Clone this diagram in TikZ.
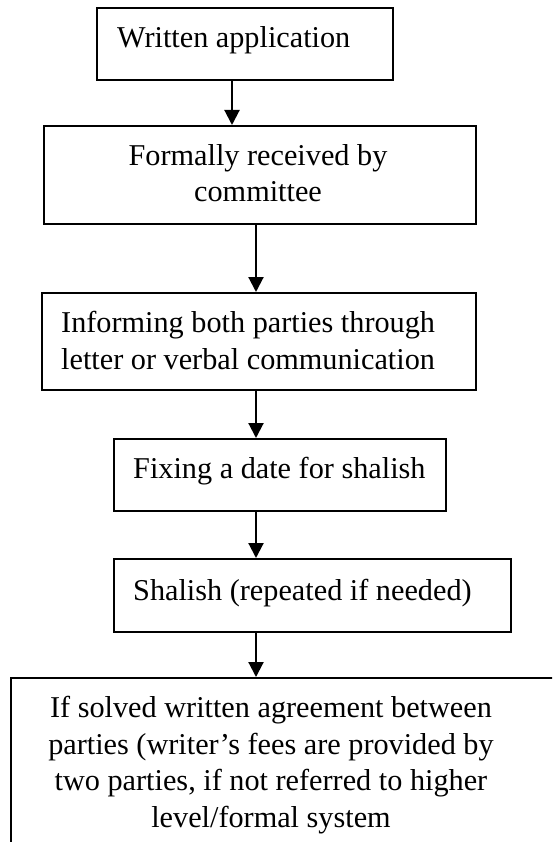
\documentclass[tikz,border=0pt]{standalone}
\usepackage{fontspec}
\setmainfont{Liberation Serif}
\usetikzlibrary{arrows.meta}

\begin{document}
\begin{tikzpicture}[x=1pt,y=1pt,
    stepbox/.style={draw=black, line width=2.1pt, rectangle, inner sep=0pt, anchor=north west},
    steptext/.style={inner sep=0pt, font=\fontsize{30.25}{36.4}\selectfont},
    flow/.style={draw=black, line width=2.1pt, -{Triangle[length=15pt,width=15pt]}}]

  % page frame
  \useasboundingbox (0,0) rectangle (552,-842);
  \clip (0,0) rectangle (552,-842);

  % boxes of the procedure
  \node[stepbox, minimum width=296pt, minimum height=72pt] (b1) at (96,-7)   {};
  \node[stepbox, minimum width=432pt, minimum height=98pt] (b2) at (43,-125)  {};
  \node[stepbox, minimum width=434pt, minimum height=97pt] (b3) at (41,-292)  {};
  \node[stepbox, minimum width=332pt, minimum height=72pt] (b4) at (113,-438) {};
  \node[stepbox, minimum width=397pt, minimum height=73pt] (b5) at (113,-558) {};
  \node[stepbox, minimum width=560pt, minimum height=200pt] (b6) at (10,-677) {};

  % texts (multi-line nodes sit on the baseline of their last line)
  \node[steptext, anchor=base west] (t1) at (117,-48) {Written application};
  \node[steptext, anchor=base, align=center] (t2) at (258,-202)
    {Formally received by\\committee};
  \node[steptext, anchor=base west, align=left] (t3) at (61,-369)
    {Informing both parties through\\letter or verbal communication};
  \node[steptext, anchor=base west] (t4) at (133,-478) {Fixing a date for shalish};
  \node[steptext, anchor=base west] (t5) at (133,-600) {Shalish (repeated if needed)};
  \node[steptext, anchor=base, align=center] (t6) at (271,-827)
    {If solved written agreement between\\parties (writer’s fees are provided by\\two parties, if not referred to higher\\level/formal system};

  % connector columns
  \coordinate (c1) at (232,0);
  \coordinate (c2) at (256,0);

  % connectors
  \draw[flow] (b1.south -| c1) -- (b2.north -| c1);
  \draw[flow] (b2.south -| c2) -- (b3.north -| c2);
  \draw[flow] (b3.south -| c2) -- (b4.north -| c2);
  \draw[flow] (b4.south -| c2) -- (b5.north -| c2);
  \draw[flow] (b5.south -| c2) -- (b6.north -| c2);
\end{tikzpicture}
\end{document}
